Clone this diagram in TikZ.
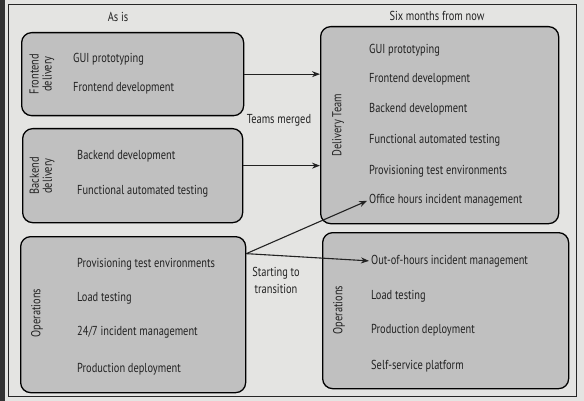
\documentclass[tikz,border=0pt]{standalone}
\usepackage{fontspec}
\setmainfont{PT Sans}[FakeStretch=0.8]
\usetikzlibrary{arrows.meta}
\definecolor{pagebg}{HTML}{E4E4E2}
\definecolor{boxfill}{HTML}{C0C0C0}
\definecolor{ink}{HTML}{222222}
\begin{document}
\begin{tikzpicture}[x=1pt,y=-1pt,
  font=\fontsize{13}{14}\selectfont,
  grp/.style={draw=black, line width=1.3pt, fill=boxfill, rounded corners=10pt,
    rectangle, anchor=north west, inner sep=0pt},
  item/.style={anchor=west, text=ink, inner sep=0pt},
  vlbl/.style={text=ink, rotate=90, align=center, inner sep=0pt,
    font=\fontsize{13}{13}\selectfont},
  head/.style={text=ink, inner sep=0pt},
  arr/.style={-{Stealth[length=8pt,width=6pt]}, line width=1.1pt, draw=ink}]
\useasboundingbox (0,0) rectangle (584,401);
\fill[pagebg] (0,0) rectangle (584,401);
\fill[black!80] (0,0) rectangle (5,401);
\draw[black!85, line width=0.8pt] (8,4) rectangle (576,396);

% headings
\node[head] (asis) at (118,17) {As is};
\node[head] (six) at (437,16) {Six months from now};

% left boxes
\node[grp, minimum width=222pt, minimum height=83pt] (fe) at (21,32) {};
\node[grp, minimum width=220pt, minimum height=94pt] (be) at (22,128) {};
\node[grp, minimum width=225pt, minimum height=156pt] (opsL) at (20,236) {};

% right boxes
\node[grp, minimum width=238pt, minimum height=197pt] (dt) at (320,26) {};
\node[grp, minimum width=246pt, minimum height=156pt] (opsR) at (322,232) {};

% frontend
\node[vlbl] (feL) at (42,74) {Frontend\\delivery};
\node[item] (fe1) at (73,59) {GUI prototyping};
\node[item] (fe2) at (73,88) {Frontend development};

% backend
\node[vlbl] (beL) at (42,176) {Backend\\delivery};
\node[item] (be1) at (77,156) {Backend development};
\node[item] (be2) at (77,191) {Functional automated testing};

% operations left
\node[vlbl] (opsLL) at (37,313) {Operations};
\node[item] (o1) at (77,264) {Provisioning test environments};
\node[item] (o2) at (77,298) {Load testing};
\node[item] (o3) at (77,332) {24/7 incident management};
\node[item] (o4) at (77,369) {Production deployment};

% delivery team
\node[vlbl] (dtL) at (338,125) {Delivery Team};
\node[item] (d1) at (369,50) {GUI prototyping};
\node[item] (d2) at (369,79) {Frontend development};
\node[item] (d3) at (369,109) {Backend development};
\node[item] (d4) at (369,140) {Functional automated testing};
\node[item] (d5) at (369,171) {Provisioning test environments};
\node[item] (d6) at (369,200) {Office hours incident management};

% operations right
\node[vlbl] (opsRL) at (339,310) {Operations};
\node[item] (r1) at (371,261) {Out-of-hours incident management};
\node[item] (r2) at (371,296) {Load testing};
\node[item] (r3) at (371,330) {Production deployment};
\node[item] (r4) at (371,366) {Self-service platform};

% connector labels
\node[head] (merged) at (279,120) {Teams merged};
\node[head, align=center, font=\fontsize{13}{17}\selectfont] (trans) at (276,280) {Starting to\\transition};

% connectors
\draw[arr] (fe.east) -- (fe.east -| dt.west);
\path ([yshift=10pt]be.east) coordinate (bs);
\draw[arr] (bs) -- (bs -| dt.west);
\path ([yshift=61pt]opsL.east) coordinate (src);
\draw[arr, shorten >=2pt] (src) -- (d6.west);
\draw[arr, shorten >=2pt] (src) -- (r1.west);

\fill[pagebg] (577,0) rectangle (584,401);
\fill[pagebg] (5,397) rectangle (584,401);
\end{tikzpicture}
\end{document}
